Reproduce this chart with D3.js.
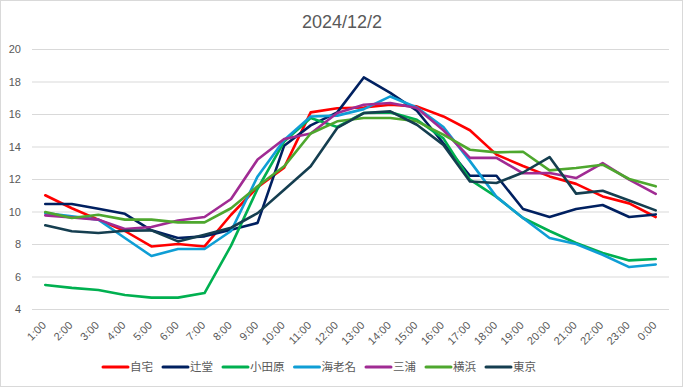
<!DOCTYPE html>
<html>
<head>
<meta charset="utf-8">
<script src="https://cdn.jsdelivr.net/npm/d3@7"></script>
<style>
  html, body { margin: 0; padding: 0; background: #fff; }
  #chart { width: 683px; height: 387px; }
  text { font-family: 'Liberation Sans', 'Noto Sans CJK JP', sans-serif; }
</style>
</head>
<body>
<div id="chart"></div>
<script>
// Data
const hours = ['1:00', '2:00', '3:00', '4:00', '5:00', '6:00', '7:00', '8:00', '9:00', '10:00', '11:00', '12:00',
    '13:00', '14:00', '15:00', '16:00', '17:00', '18:00', '19:00', '20:00', '21:00', '22:00', '23:00', '0:00'];
const yTicks = [4, 6, 8, 10, 12, 14, 16, 18, 20];

const jitaku = [11.0, 10.2, 9.5, 8.8, 7.85, 8.0, 7.85, 9.8, 11.5, 12.7, 16.1, 16.35, 16.4, 16.57, 16.47, 15.85, 15.0, 13.5, 12.8, 12.16, 11.7, 10.93, 10.5, 9.66];
const tsujido = [10.46, 10.46, 10.17, 9.86, 8.84, 8.37, 8.47, 8.88, 9.3, 14.05, 15.3, 16.1, 18.25, 17.3, 16.2, 14.2, 12.2, 12.2, 10.15, 9.66, 10.15, 10.4, 9.66, 9.82];
const odawara = [5.48, 5.3, 5.17, 4.86, 4.7, 4.7, 4.98, 7.9, 11.4, 14.3, 15.75, 15.2, 16.06, 16.1, 15.65, 14.5, 11.96, 10.9, 9.6, 8.8, 8.06, 7.45, 6.99, 7.08];
const ebina = [9.9, 9.7, 9.5, 8.37, 7.26, 7.69, 7.69, 8.8, 12.16, 14.4, 15.85, 15.9, 16.3, 17.08, 16.4, 15.2, 13.1, 10.9, 9.6, 8.37, 8.0, 7.34, 6.58, 6.74];
const miura = [9.76, 9.64, 9.5, 8.92, 9.05, 9.45, 9.66, 10.77, 13.2, 14.46, 14.8, 16.06, 16.57, 16.68, 16.37, 15.0, 13.3, 13.3, 12.35, 12.37, 12.06, 12.98, 11.96, 11.08];
const yokohama = [9.97, 9.6, 9.8, 9.5, 9.5, 9.33, 9.33, 10.2, 11.55, 12.78, 14.8, 15.55, 15.75, 15.75, 15.55, 14.73, 13.8, 13.64, 13.68, 12.53, 12.68, 12.88, 12.0, 11.55];
const tokyo = [9.15, 8.78, 8.68, 8.82, 8.84, 8.16, 8.57, 9.0, 9.9, 11.34, 12.78, 15.14, 16.06, 16.16, 15.34, 14.1, 11.85, 11.75, 12.4, 13.35, 11.1, 11.28, 10.68, 10.07];

const seriesNames = ['自宅', '辻堂', '小田原', '海老名', '三浦', '横浜', '東京'];
const seriesValues = [jitaku, tsujido, odawara, ebina, miura, yokohama, tokyo];
const seriesColors = ['#ff0000', '#002060', '#00b050', '#0f9ed5', '#a02b93', '#4ea72e', '#153e50'];

function renderChart(elementId) {
    const container = document.getElementById(elementId);
    const width = 683;
    const height = 387;
    const margin = { top: 49, right: 14, bottom: 78, left: 32 };

    const svg = d3.select(container)
        .append('svg')
        .attr('width', width)
        .attr('height', height);

    // chart border
    svg.append('rect')
        .attr('x', 0.5).attr('y', 0.5)
        .attr('width', width - 1).attr('height', height - 1)
        .attr('fill', '#fff')
        .attr('stroke', '#d9d9d9');

    const x = d3.scalePoint()
        .domain(hours)
        .range([margin.left, width - margin.right])
        .padding(0.5);

    const y = d3.scaleLinear()
        .domain([4, 20])
        .range([height - margin.bottom, margin.top]);

    // Title
    svg.append('text')
        .attr('x', 342)
        .attr('y', 28)
        .attr('text-anchor', 'middle')
        .attr('font-size', '18px')
        .attr('fill', '#595959')
        .text('2024/12/2');

    // Gridlines + y labels
    const yAxis = d3.axisLeft(y)
        .tickValues(yTicks)
        .tickSize(-(width - margin.left - margin.right))
        .tickPadding(11);

    const gy = svg.append('g')
        .attr('transform', `translate(${margin.left},0)`)
        .call(yAxis);
    gy.select('.domain').remove();
    gy.selectAll('.tick line').attr('stroke', '#d9d9d9').attr('stroke-width', 1);
    gy.selectAll('.tick text')
        .attr('fill', '#595959')
        .attr('font-size', '11px')
        .style('font-family', "'Liberation Sans', sans-serif");

    // x labels (rotated)
    const xAxis = d3.axisBottom(x).tickSize(0).tickPadding(0);
    const gx = svg.append('g')
        .attr('transform', `translate(0,${height - margin.bottom})`)
        .call(xAxis);
    gx.select('.domain').remove();
    gx.selectAll('.tick text')
        .attr('fill', '#595959')
        .attr('font-size', '11px')
        .attr('text-anchor', 'end')
        .attr('dy', null)
        .attr('y', 0)
        .attr('transform', 'translate(1,17) rotate(-45)');

    // Lines
    const line = d3.line()
        .x((d, i) => x(hours[i]))
        .y(d => y(d));

    seriesValues.forEach((vals, k) => {
        svg.append('path')
            .datum(vals)
            .attr('fill', 'none')
            .attr('stroke', seriesColors[k])
            .attr('stroke-width', 2.6)
            .attr('stroke-linejoin', 'round')
            .attr('stroke-linecap', 'round')
            .attr('d', line);
    });

    // Legend
    const legend = svg.append('g').attr('transform', 'translate(103,367)');
    let lx = 0;
    seriesNames.forEach((name, k) => {
        const item = legend.append('g').attr('transform', `translate(${lx},0)`);
        item.append('line')
            .attr('x1', 0).attr('x2', 25)
            .attr('y1', 0).attr('y2', 0)
            .attr('stroke', seriesColors[k])
            .attr('stroke-width', 3)
            .attr('stroke-linecap', 'round');
        const t = item.append('text')
            .attr('x', 27)
            .attr('y', 4)
            .attr('font-size', '11.5px')
            .attr('fill', '#595959')
            .style('font-family', "'Noto Sans CJK JP', sans-serif")
            .text(name);
        lx += 27 + t.node().getComputedTextLength() + 10;
    });
}

renderChart('chart');
</script>
</body>
</html>
